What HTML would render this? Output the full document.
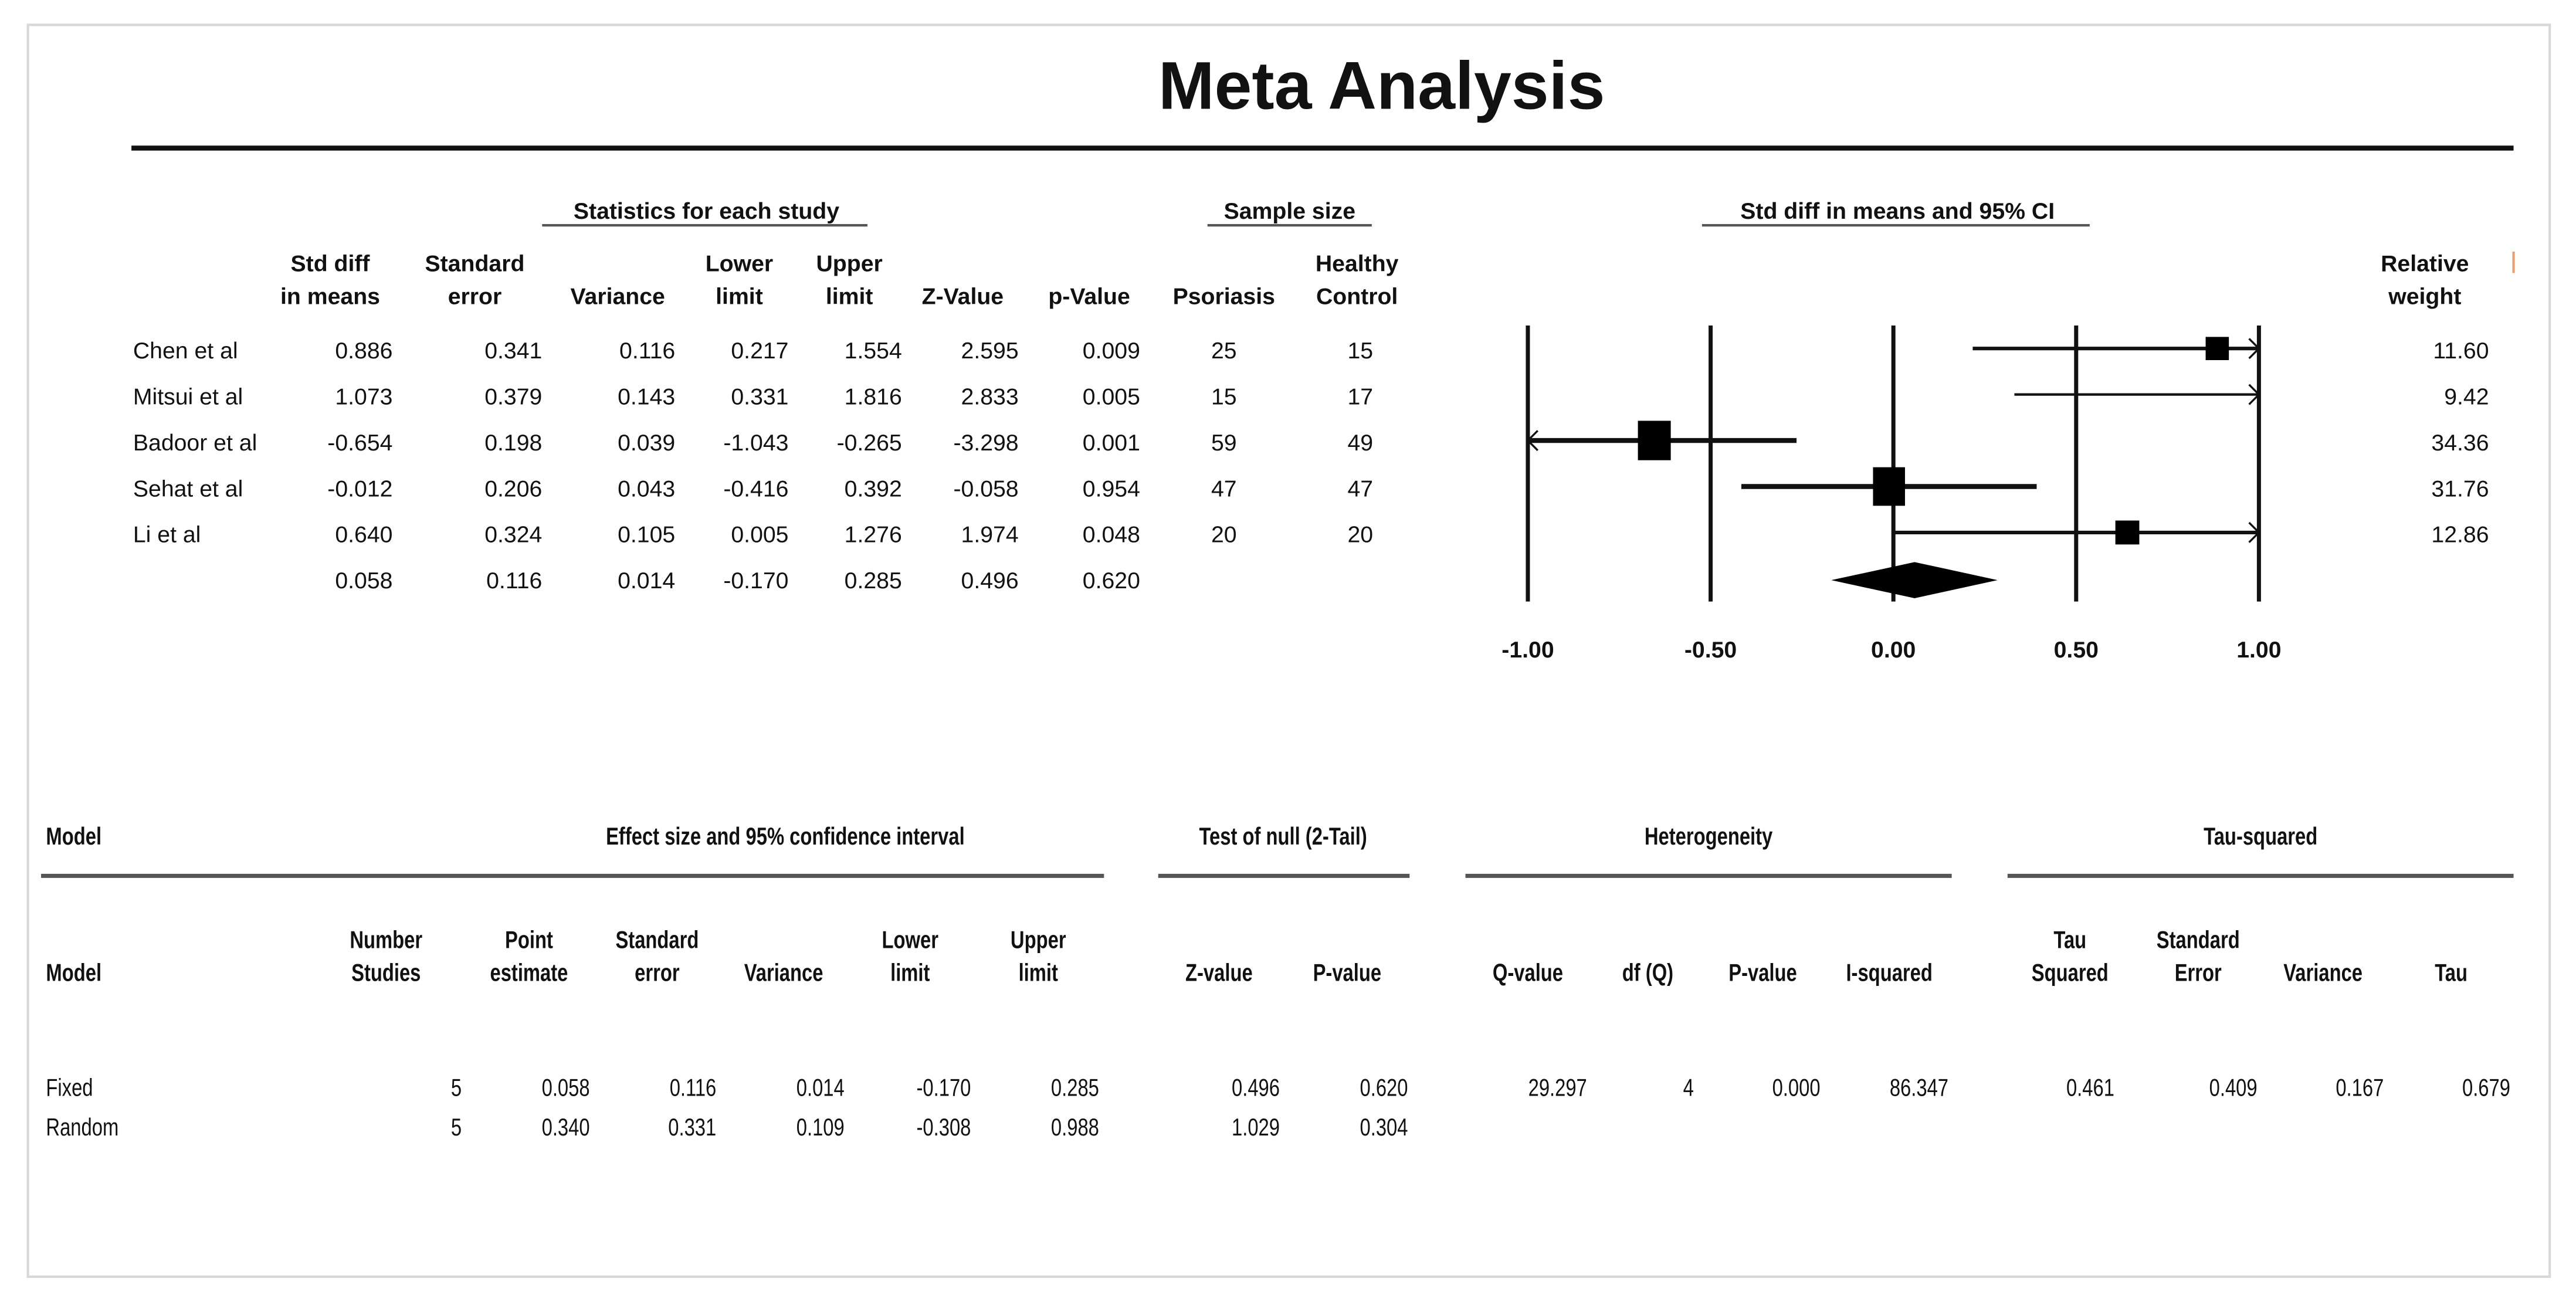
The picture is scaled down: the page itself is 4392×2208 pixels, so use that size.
<!DOCTYPE html>
<html><head><meta charset="utf-8"><style>
html,body{margin:0;padding:0;background:#fff;}
svg{display:block;}
text{font-family:"Liberation Sans",Arial,sans-serif;fill:#111;}
.h{font-weight:bold;font-size:14px;}
.v{font-size:14px;}
.c{font-size:15px;}
.cb{font-size:15px;font-weight:bold;}
</style></head><body>
<svg id="root" width="4392" height="2208" viewBox="0 0 1568 788" xmlns="http://www.w3.org/2000/svg">
<rect x="17" y="15" width="1535" height="762" fill="none" stroke="#d8d8d8" stroke-width="1.5"/>
<text x="841" y="66" text-anchor="middle" style="font-weight:bold;font-size:41px">Meta Analysis</text>
<line x1="80" y1="90" x2="1530" y2="90" stroke="#111" stroke-width="3"/>
<line x1="1530" y1="153" x2="1530" y2="166" stroke="#e8a070" stroke-width="1.5"/>
<g id="top"></g>
<g id="forest"></g>
<g id="bottom"></g>
</svg>
<script>
const studies=["Chen et al","Mitsui et al","Badoor et al","Sehat et al","Li et al",""];
const stdDiff=[0.886,1.073,-0.654,-0.012,0.640,0.058];
const stdErr=[0.341,0.379,0.198,0.206,0.324,0.116];
const variance=[0.116,0.143,0.039,0.043,0.105,0.014];
const lower=[0.217,0.331,-1.043,-0.416,0.005,-0.170];
const upper=[1.554,1.816,-0.265,0.392,1.276,0.285];
const zVal=[2.595,2.833,-3.298,-0.058,1.974,0.496];
const pVal=[0.009,0.005,0.001,0.954,0.048,0.620];
const psoriasis=[25,15,59,47,20,null];
const healthy=[15,17,49,47,20,null];
const relWeight=[11.60,9.42,34.36,31.76,12.86,null];
const xTicks=[-1,-0.5,0,0.5,1];
const fixedRow=["Fixed","5","0.058","0.116","0.014","-0.170","0.285","0.496","0.620","29.297","4","0.000","86.347","0.461","0.409","0.167","0.679"];
const randomRow=["Random","5","0.340","0.331","0.109","-0.308","0.988","1.029","0.304"];

const NS="http://www.w3.org/2000/svg";
function T(parent,x,y,str,cls,anchor,name,sx){
  const t=document.createElementNS(NS,"text");
  if(sx){t.setAttribute("transform",`translate(${x},${y}) scale(${sx},1)`);}
  else{t.setAttribute("x",x);t.setAttribute("y",y);}
  t.setAttribute("class",cls);
  if(anchor)t.setAttribute("text-anchor",anchor);
  t.textContent=str;
  
  
  parent.appendChild(t);return t;
}
function L(parent,x1,y1,x2,y2,w,name,col){
  const l=document.createElementNS(NS,"line");
  l.setAttribute("x1",x1);l.setAttribute("y1",y1);l.setAttribute("x2",x2);l.setAttribute("y2",y2);
  l.setAttribute("stroke",col||"#111");l.setAttribute("stroke-width",w);
  
  
  parent.appendChild(l);return l;
}
const top_=document.getElementById("top");
T(top_,430,133,"Statistics for each study","h","middle","group-header-statistics");
L(top_,330,137,528,137,1.5,"statistics-underline","#555");
T(top_,785,133,"Sample size","h","middle","group-header-sample-size");
L(top_,735,137,835,137,1.5,"sample-underline","#555");
T(top_,1155,133,"Std diff in means and 95% CI","h","middle","group-header-forest");
L(top_,1036,137,1272,137,1.5,"forest-underline","#555");
const hdr=[[201,"Std diff","in means"],[289,"Standard","error"],[376,"","Variance"],[450,"Lower","limit"],[517,"Upper","limit"],[586,"","Z-Value"],[663,"","p-Value"],[745,"","Psoriasis"],[826,"Healthy","Control"],[1476,"Relative","weight"]];
hdr.forEach(h=>{if(h[1])T(top_,h[0],165,h[1],"h","middle","column-header");T(top_,h[0],185,h[2],"h","middle","column-header");});
const rowY=[213,241,269,297,325,353];
const cols=[[239,stdDiff],[330,stdErr],[411,variance],[480,lower],[549,upper],[620,zVal],[694,pVal]];
studies.forEach((s,i)=>{
  const y=rowY[i]+5;
  if(s)T(top_,81,y,s,"v","start","study-name");
  cols.forEach(c=>T(top_,c[0],y,c[1][i].toFixed(3),"v","end","study-value"));
  if(psoriasis[i]!==null)T(top_,745,y,String(psoriasis[i]),"v","middle","psoriasis-n");
  if(healthy[i]!==null)T(top_,828,y,String(healthy[i]),"v","middle","healthy-n");
  if(relWeight[i]!==null)T(top_,1515,y,relWeight[i].toFixed(2),"v","end","relative-weight");
});
const F=document.getElementById("forest");
const xS=v=>1152.5+v*222.5;
xTicks.forEach(t=>{
  L(F,xS(t),198,xS(t),366,2.5,"gridline");
  T(F,xS(t),400,t.toFixed(2),"h","middle","x-tick-label");
});
const maxW=34.36;
for(let i=0;i<5;i++){
  const y=rowY[i]-1;
  const w=relWeight[i];
  const lo=Math.max(-1,lower[i]),hi=Math.min(1,upper[i]);
  const lw=w>20?3:(w>11?2.2:1.5);
  L(F,xS(lo),y,xS(hi),y,lw,"ci-line");
  if(upper[i]>1){const p=document.createElementNS(NS,"path");p.setAttribute("d",`M${xS(1)-6},${y-6} L${xS(1)},${y} L${xS(1)-6},${y+6}`);p.setAttribute("fill","none");p.setAttribute("stroke","#111");p.setAttribute("stroke-width","1.2");
    
    
    F.appendChild(p);}
  if(lower[i]<-1){const p=document.createElementNS(NS,"path");p.setAttribute("d",`M${xS(-1)+6},${y-6} L${xS(-1)},${y} L${xS(-1)+6},${y+6}`);p.setAttribute("fill","none");p.setAttribute("stroke","#111");p.setAttribute("stroke-width","1.2");
    
    
    F.appendChild(p);}
  if(stdDiff[i]<=1&&stdDiff[i]>=-1){
    const sz=6+14*Math.sqrt(w/maxW);
    const r=document.createElementNS(NS,"rect");
    r.setAttribute("x",xS(stdDiff[i])-sz/2);r.setAttribute("y",y-sz/2-(w>20?2:0));
    r.setAttribute("width",sz);r.setAttribute("height",sz+(w>20?4:0));r.setAttribute("fill","#000");
    
    
    F.appendChild(r);
  }
}
{const y=rowY[5];const d=document.createElementNS(NS,"polygon");
 d.setAttribute("points",`${xS(lower[5])},${y} ${xS(stdDiff[5])},${y-11} ${xS(upper[5])},${y} ${xS(stdDiff[5])},${y+11}`);
 d.setAttribute("fill","#000");
 
 
 F.appendChild(d);}
const B=document.getElementById("bottom");
const SX=0.78;
T(B,28,514,"Model","cb","start","model-header",SX);
T(B,478,514,"Effect size and 95% confidence interval","cb","middle","group-header-effect",SX);
T(B,781,514,"Test of null (2-Tail)","cb","middle","group-header-test",SX);
T(B,1040,514,"Heterogeneity","cb","middle","group-header-heterogeneity",SX);
T(B,1376,514,"Tau-squared","cb","middle","group-header-tau",SX);
[[25,672],[705,858],[892,1188],[1222,1530]].forEach(s=>L(B,s[0],533,s[1],533,2.5,"group-rule","#555"));
T(B,28,597,"Model","cb","start","model-header",SX);
const bh=[[235,"Number","Studies"],[322,"Point","estimate"],[400,"Standard","error"],[477,"","Variance"],[554,"Lower","limit"],[632,"Upper","limit"],[742,"","Z-value"],[820,"","P-value"],[930,"","Q-value"],[1003,"","df (Q)"],[1073,"","P-value"],[1150,"","I-squared"],[1260,"Tau","Squared"],[1338,"Standard","Error"],[1414,"","Variance"],[1492,"","Tau"]];
bh.forEach(h=>{if(h[1])T(B,h[0],577,h[1],"cb","middle","column-header",SX);T(B,h[0],597,h[2],"cb","middle","column-header",SX);});
const bx=[281,359,436,514,591,669,779,857,966,1031,1108,1186,1287,1374,1451,1528];
[[fixedRow,667],[randomRow,691]].forEach(r=>{
  const row=r[0],y=r[1];
  T(B,28,y,row[0],"c","start","model-name",SX);
  for(let k=1;k<row.length;k++)T(B,bx[k-1],y,row[k],"c","end","model-value",SX);
});
</script>
</body></html>
